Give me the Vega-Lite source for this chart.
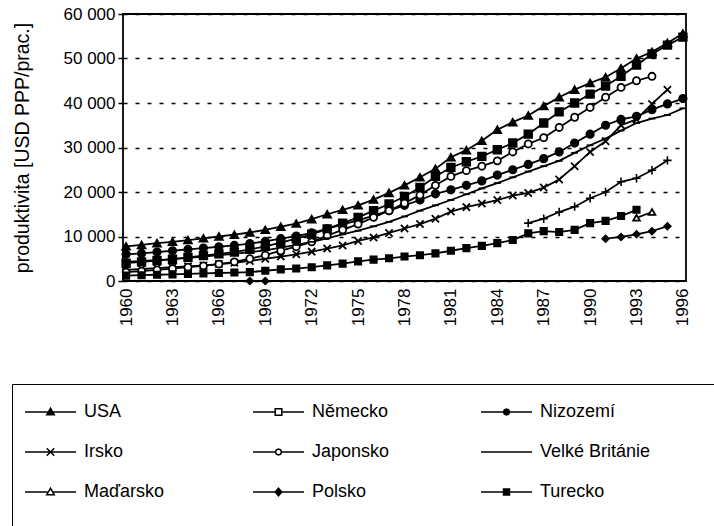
{
  "$schema": "https://vega.github.io/schema/vega-lite/v6.json",
  "width": 563,
  "height": 267,
  "autosize": {"type": "none"},
  "padding": {"left": 123, "top": 14, "right": 28, "bottom": 245},
  "background": "white",
  "config": {
    "view": {"stroke": "black", "strokeWidth": 1.8},
    "font": "Liberation Sans",
    "axis": {"labelFont": "Liberation Sans", "titleFont": "Liberation Sans", "labelColor": "black", "titleColor": "black", "labelFontSize": 17, "titleFontSize": 19.5, "titleFontWeight": "normal"}
  },
  "datasets": {
    "main": [
      {"s":"USA","y":1960,"v":7800},{"s":"USA","y":1961,"v":8100},{"s":"USA","y":1962,"v":8500},{"s":"USA","y":1963,"v":8800},{"s":"USA","y":1964,"v":9200},{"s":"USA","y":1965,"v":9600},{"s":"USA","y":1966,"v":10000},{"s":"USA","y":1967,"v":10400},{"s":"USA","y":1968,"v":10900},{"s":"USA","y":1969,"v":11500},{"s":"USA","y":1970,"v":12200},{"s":"USA","y":1971,"v":12900},{"s":"USA","y":1972,"v":13900},{"s":"USA","y":1973,"v":15000},{"s":"USA","y":1974,"v":16000},{"s":"USA","y":1975,"v":17000},{"s":"USA","y":1976,"v":18300},{"s":"USA","y":1977,"v":19800},{"s":"USA","y":1978,"v":21500},{"s":"USA","y":1979,"v":23300},{"s":"USA","y":1980,"v":25200},{"s":"USA","y":1981,"v":27800},{"s":"USA","y":1982,"v":29400},{"s":"USA","y":1983,"v":31500},{"s":"USA","y":1984,"v":34000},{"s":"USA","y":1985,"v":35700},{"s":"USA","y":1986,"v":37200},{"s":"USA","y":1987,"v":39300},{"s":"USA","y":1988,"v":41300},{"s":"USA","y":1989,"v":43000},{"s":"USA","y":1990,"v":44500},{"s":"USA","y":1991,"v":45800},{"s":"USA","y":1992,"v":47800},{"s":"USA","y":1993,"v":50000},{"s":"USA","y":1994,"v":51500},{"s":"USA","y":1995,"v":53500},{"s":"USA","y":1996,"v":55600},
      {"s":"Německo","y":1960,"v":4000},{"s":"Německo","y":1961,"v":4300},{"s":"Německo","y":1962,"v":4600},{"s":"Německo","y":1963,"v":4900},{"s":"Německo","y":1964,"v":5300},{"s":"Německo","y":1965,"v":5700},{"s":"Německo","y":1966,"v":6100},{"s":"Německo","y":1967,"v":6500},{"s":"Německo","y":1968,"v":7100},{"s":"Německo","y":1969,"v":7800},{"s":"Německo","y":1970,"v":8600},{"s":"Německo","y":1971,"v":9500},{"s":"Německo","y":1972,"v":10500},{"s":"Německo","y":1973,"v":11700},{"s":"Německo","y":1974,"v":13000},{"s":"Německo","y":1975,"v":14300},{"s":"Německo","y":1976,"v":15800},{"s":"Německo","y":1977,"v":17300},{"s":"Německo","y":1978,"v":19000},{"s":"Německo","y":1979,"v":21000},{"s":"Německo","y":1980,"v":23500},{"s":"Německo","y":1981,"v":25500},{"s":"Německo","y":1982,"v":26800},{"s":"Německo","y":1983,"v":28000},{"s":"Německo","y":1984,"v":29500},{"s":"Německo","y":1985,"v":31000},{"s":"Německo","y":1986,"v":33000},{"s":"Německo","y":1987,"v":35500},{"s":"Německo","y":1988,"v":38000},{"s":"Německo","y":1989,"v":40000},{"s":"Německo","y":1990,"v":42000},{"s":"Německo","y":1991,"v":43800},{"s":"Německo","y":1992,"v":46000},{"s":"Německo","y":1993,"v":48500},{"s":"Německo","y":1994,"v":51000},{"s":"Německo","y":1995,"v":53000},{"s":"Německo","y":1996,"v":54800},
      {"s":"Nizozemí","y":1960,"v":6000},{"s":"Nizozemí","y":1961,"v":6200},{"s":"Nizozemí","y":1962,"v":6500},{"s":"Nizozemí","y":1963,"v":6800},{"s":"Nizozemí","y":1964,"v":7100},{"s":"Nizozemí","y":1965,"v":7400},{"s":"Nizozemí","y":1966,"v":7700},{"s":"Nizozemí","y":1967,"v":8000},{"s":"Nizozemí","y":1968,"v":8400},{"s":"Nizozemí","y":1969,"v":8900},{"s":"Nizozemí","y":1970,"v":9500},{"s":"Nizozemí","y":1971,"v":10100},{"s":"Nizozemí","y":1972,"v":10800},{"s":"Nizozemí","y":1973,"v":11700},{"s":"Nizozemí","y":1974,"v":12700},{"s":"Nizozemí","y":1975,"v":13600},{"s":"Nizozemí","y":1976,"v":14700},{"s":"Nizozemí","y":1977,"v":15800},{"s":"Nizozemí","y":1978,"v":17000},{"s":"Nizozemí","y":1979,"v":18200},{"s":"Nizozemí","y":1980,"v":19600},{"s":"Nizozemí","y":1981,"v":20500},{"s":"Nizozemí","y":1982,"v":21500},{"s":"Nizozemí","y":1983,"v":22500},{"s":"Nizozemí","y":1984,"v":23800},{"s":"Nizozemí","y":1985,"v":25000},{"s":"Nizozemí","y":1986,"v":26200},{"s":"Nizozemí","y":1987,"v":27500},{"s":"Nizozemí","y":1988,"v":29000},{"s":"Nizozemí","y":1989,"v":31000},{"s":"Nizozemí","y":1990,"v":33000},{"s":"Nizozemí","y":1991,"v":35000},{"s":"Nizozemí","y":1992,"v":36300},{"s":"Nizozemí","y":1993,"v":37000},{"s":"Nizozemí","y":1994,"v":38500},{"s":"Nizozemí","y":1995,"v":39800},{"s":"Nizozemí","y":1996,"v":41000},
      {"s":"Irsko","y":1960,"v":2500},{"s":"Irsko","y":1961,"v":2700},{"s":"Irsko","y":1962,"v":2900},{"s":"Irsko","y":1963,"v":3100},{"s":"Irsko","y":1964,"v":3300},{"s":"Irsko","y":1965,"v":3500},{"s":"Irsko","y":1966,"v":3800},{"s":"Irsko","y":1967,"v":4100},{"s":"Irsko","y":1968,"v":4500},{"s":"Irsko","y":1969,"v":5000},{"s":"Irsko","y":1970,"v":5500},{"s":"Irsko","y":1971,"v":6000},{"s":"Irsko","y":1972,"v":6600},{"s":"Irsko","y":1973,"v":7300},{"s":"Irsko","y":1974,"v":8000},{"s":"Irsko","y":1975,"v":9000},{"s":"Irsko","y":1976,"v":9800},{"s":"Irsko","y":1977,"v":10800},{"s":"Irsko","y":1978,"v":11800},{"s":"Irsko","y":1979,"v":12800},{"s":"Irsko","y":1980,"v":14000},{"s":"Irsko","y":1981,"v":15600},{"s":"Irsko","y":1982,"v":16600},{"s":"Irsko","y":1983,"v":17400},{"s":"Irsko","y":1984,"v":18200},{"s":"Irsko","y":1985,"v":19200},{"s":"Irsko","y":1986,"v":19800},{"s":"Irsko","y":1987,"v":21000},{"s":"Irsko","y":1988,"v":22800},{"s":"Irsko","y":1989,"v":25800},{"s":"Irsko","y":1990,"v":29000},{"s":"Irsko","y":1991,"v":31400},{"s":"Irsko","y":1992,"v":35000},{"s":"Irsko","y":1993,"v":36300},{"s":"Irsko","y":1994,"v":39800},{"s":"Irsko","y":1995,"v":43000},
      {"s":"Japonsko","y":1960,"v":2000},{"s":"Japonsko","y":1961,"v":2200},{"s":"Japonsko","y":1962,"v":2500},{"s":"Japonsko","y":1963,"v":2800},{"s":"Japonsko","y":1964,"v":3100},{"s":"Japonsko","y":1965,"v":3400},{"s":"Japonsko","y":1966,"v":3800},{"s":"Japonsko","y":1967,"v":4300},{"s":"Japonsko","y":1968,"v":5000},{"s":"Japonsko","y":1969,"v":5800},{"s":"Japonsko","y":1970,"v":6800},{"s":"Japonsko","y":1971,"v":7700},{"s":"Japonsko","y":1972,"v":8800},{"s":"Japonsko","y":1973,"v":10200},{"s":"Japonsko","y":1974,"v":11500},{"s":"Japonsko","y":1975,"v":12800},{"s":"Japonsko","y":1976,"v":14300},{"s":"Japonsko","y":1977,"v":15800},{"s":"Japonsko","y":1978,"v":17500},{"s":"Japonsko","y":1979,"v":19300},{"s":"Japonsko","y":1980,"v":21500},{"s":"Japonsko","y":1981,"v":23500},{"s":"Japonsko","y":1982,"v":24800},{"s":"Japonsko","y":1983,"v":25800},{"s":"Japonsko","y":1984,"v":27000},{"s":"Japonsko","y":1985,"v":29000},{"s":"Japonsko","y":1986,"v":30800},{"s":"Japonsko","y":1987,"v":32200},{"s":"Japonsko","y":1988,"v":34500},{"s":"Japonsko","y":1989,"v":36800},{"s":"Japonsko","y":1990,"v":39000},{"s":"Japonsko","y":1991,"v":41300},{"s":"Japonsko","y":1992,"v":43500},{"s":"Japonsko","y":1993,"v":45000},{"s":"Japonsko","y":1994,"v":46000},
      {"s":"Velké Británie","y":1960,"v":4300},{"s":"Velké Británie","y":1961,"v":4500},{"s":"Velké Británie","y":1962,"v":4700},{"s":"Velké Británie","y":1963,"v":4900},{"s":"Velké Británie","y":1964,"v":5200},{"s":"Velké Británie","y":1965,"v":5500},{"s":"Velké Británie","y":1966,"v":5800},{"s":"Velké Británie","y":1967,"v":6100},{"s":"Velké Británie","y":1968,"v":6500},{"s":"Velké Británie","y":1969,"v":6900},{"s":"Velké Británie","y":1970,"v":7500},{"s":"Velké Británie","y":1971,"v":8100},{"s":"Velké Británie","y":1972,"v":8800},{"s":"Velké Británie","y":1973,"v":9600},{"s":"Velké Británie","y":1974,"v":10500},{"s":"Velké Británie","y":1975,"v":11300},{"s":"Velké Británie","y":1976,"v":12300},{"s":"Velké Británie","y":1977,"v":13300},{"s":"Velké Británie","y":1978,"v":14500},{"s":"Velké Británie","y":1979,"v":15800},{"s":"Velké Británie","y":1980,"v":17000},{"s":"Velké Británie","y":1981,"v":18200},{"s":"Velké Británie","y":1982,"v":19500},{"s":"Velké Británie","y":1983,"v":20800},{"s":"Velké Británie","y":1984,"v":22000},{"s":"Velké Británie","y":1985,"v":23300},{"s":"Velké Británie","y":1986,"v":24600},{"s":"Velké Británie","y":1987,"v":25800},{"s":"Velké Británie","y":1988,"v":27000},{"s":"Velké Británie","y":1989,"v":28800},{"s":"Velké Británie","y":1990,"v":30500},{"s":"Velké Británie","y":1991,"v":32000},{"s":"Velké Británie","y":1992,"v":33800},{"s":"Velké Británie","y":1993,"v":35500},{"s":"Velké Británie","y":1994,"v":36500},{"s":"Velké Británie","y":1995,"v":37300},{"s":"Velké Británie","y":1996,"v":38800},
      {"s":"Maďarsko","y":1993,"v":14200},{"s":"Maďarsko","y":1994,"v":15500},
      {"s":"Polsko","y":1968,"v":0,"p":"z"},{"s":"Polsko","y":1969,"v":0,"p":"z"},{"s":"Polsko","y":1991,"v":9500},{"s":"Polsko","y":1992,"v":9900},{"s":"Polsko","y":1993,"v":10500},{"s":"Polsko","y":1994,"v":11200},{"s":"Polsko","y":1995,"v":12300},
      {"s":"Turecko","y":1960,"v":1200},{"s":"Turecko","y":1961,"v":1300},{"s":"Turecko","y":1962,"v":1400},{"s":"Turecko","y":1963,"v":1500},{"s":"Turecko","y":1964,"v":1600},{"s":"Turecko","y":1965,"v":1700},{"s":"Turecko","y":1966,"v":1800},{"s":"Turecko","y":1967,"v":1900},{"s":"Turecko","y":1968,"v":2000},{"s":"Turecko","y":1969,"v":2300},{"s":"Turecko","y":1970,"v":2600},{"s":"Turecko","y":1971,"v":2800},{"s":"Turecko","y":1972,"v":3100},{"s":"Turecko","y":1973,"v":3500},{"s":"Turecko","y":1974,"v":3900},{"s":"Turecko","y":1975,"v":4400},{"s":"Turecko","y":1976,"v":4800},{"s":"Turecko","y":1977,"v":5100},{"s":"Turecko","y":1978,"v":5500},{"s":"Turecko","y":1979,"v":5800},{"s":"Turecko","y":1980,"v":6200},{"s":"Turecko","y":1981,"v":6800},{"s":"Turecko","y":1982,"v":7400},{"s":"Turecko","y":1983,"v":7900},{"s":"Turecko","y":1984,"v":8500},{"s":"Turecko","y":1985,"v":9200},{"s":"Turecko","y":1986,"v":10700},{"s":"Turecko","y":1987,"v":11200},{"s":"Turecko","y":1988,"v":11000},{"s":"Turecko","y":1989,"v":11500},{"s":"Turecko","y":1990,"v":13000},{"s":"Turecko","y":1991,"v":13500},{"s":"Turecko","y":1992,"v":14600},{"s":"Turecko","y":1993,"v":16000}
    ],
    "extra": [
      {"y":1986,"v":13000},{"y":1987,"v":14000},{"y":1988,"v":15500},{"y":1989,"v":16700},{"y":1990,"v":18600},{"y":1991,"v":20000},{"y":1992,"v":22300},{"y":1993,"v":23100},{"y":1994,"v":24900},{"y":1995,"v":27100}
    ]
  },
  "encoding": {
    "x": {"field": "y", "type": "quantitative", "scale": {"domain": [1959.8, 1996.2], "nice": false, "zero": false},
      "axis": {"values": [1960,1963,1966,1969,1972,1975,1978,1981,1984,1987,1990,1993,1996], "format": "d", "labelAngle": -90, "title": null, "grid": false, "ticks": false, "domain": false, "labelPadding": 7}},
    "y": {"field": "v", "type": "quantitative", "scale": {"domain": [0, 60000], "nice": false},
      "axis": {"values": [0,10000,20000,30000,40000,50000,60000], "labelExpr": "replace(format(datum.value, ','), ',', ' ')", "grid": true, "gridColor": "black", "gridDash": [4, 8], "gridWidth": 1.6, "tickColor": "black", "tickSize": 5, "tickWidth": 1.5, "domain": false, "labelPadding": 3, "title": "produktivita [USD PPP/prac.]", "titlePadding": 31}}
  },
  "layer": [
    {"data": {"name": "main"}, "mark": {"type": "line", "color": "black", "strokeWidth": 1.8},
     "encoding": {"detail": [{"field": "s"}, {"field": "p"}]}},
    {"data": {"name": "extra"}, "mark": {"type": "line", "color": "black", "strokeWidth": 1.8}, "encoding": {}},
    {"data": {"name": "main"}, "mark": {"type": "point", "filled": true, "stroke": "black", "strokeWidth": 1.8, "opacity": 1},
     "encoding": {
       "shape": {"field": "s", "type": "nominal", "legend": null, "scale": {"domain": ["USA","Německo","Nizozemí","Irsko","Japonsko","Velké Británie","Maďarsko","Polsko","Turecko"], "range": ["triangle-up","square","circle","M-1,-1L1,1M-1,1L1,-1","circle","M-1,0H1","triangle-up","diamond","square"]}},
       "fill": {"field": "s", "type": "nominal", "legend": null, "scale": {"domain": ["USA","Německo","Nizozemí","Irsko","Japonsko","Velké Británie","Maďarsko","Polsko","Turecko"], "range": ["black","black","black","black","white","black","white","black","black"]}},
       "size": {"field": "s", "type": "nominal", "legend": null, "scale": {"domain": ["USA","Německo","Nizozemí","Irsko","Japonsko","Velké Británie","Maďarsko","Polsko","Turecko"], "range": [60,40,42,80,36,40,60,55,50]}}
     }},
    {"data": {"name": "extra"}, "mark": {"type": "point", "shape": "M-1,0H1M0,-1V1", "size": 70, "stroke": "black", "strokeWidth": 1.6, "filled": false, "opacity": 1}, "encoding": {}},
    {"data": {"name": "main"}, "transform": [{"filter": "false"}],
     "mark": {"type": "point", "filled": true, "stroke": "black", "strokeWidth": 1.5, "opacity": 1},
     "encoding": {
       "shape": {"field": "s", "type": "nominal",
         "scale": {"domain": ["USA","Německo","Nizozemí","Irsko","Japonsko","Velké Británie","Maďarsko","Polsko","Turecko"],
           "range": [
             "M-1,0H2.4M0.7,-0.25L0.95,0.18H0.45Z",
             "M-1,0H0.48M0.92,0H2.4M0.48,-0.22H0.92V0.22H0.48Z",
             "M-1,0H2.4M0.9,0L0.841,0.141L0.7,0.2L0.559,0.141L0.5,0L0.559,-0.141L0.7,-0.2L0.841,-0.141Z",
             "M-1,0H2.4M0.45,-0.25L0.95,0.25M0.45,0.25L0.95,-0.25",
             "M-1,0H0.5M0.9,0H2.4M0.9,0L0.841,0.141L0.7,0.2L0.559,0.141L0.5,0L0.559,-0.141L0.7,-0.2L0.841,-0.141Z",
             "M-1,0H2.4",
             "M-1,0H0.5M0.9,0H2.4M0.7,-0.25L0.95,0.18H0.45Z",
             "M-1,0H2.4M0.7,-0.25L0.92,0L0.7,0.25L0.48,0Z",
             "M-1,0H2.4M0.5,-0.2H0.9V0.2H0.5Z"
           ]},
         "legend": {"orient": "none", "legendX": -111, "legendY": 370, "title": ["\u00a0","\u00a0","\u00a0","\u00a0","\u00a0","\u00a0","\u00a0","\u00a0"], "titleOrient": "right", "titlePadding": 80, "titleFontSize": 18, "titleLineHeight": 22, "direction": "horizontal", "columns": 3, "gridAlign": "all", "columnPadding": 55, "rowPadding": 15, "symbolSize": 900, "labelOffset": 28, "labelFont": "Liberation Sans", "labelFontSize": 18, "labelColor": "black", "strokeColor": "black", "padding": 12,
           "encode": {"symbols": {"update": {"stroke": {"value": "black"}, "strokeWidth": {"value": 1.5}}}}}},
       "fill": {"field": "s", "type": "nominal",
         "scale": {"domain": ["USA","Německo","Nizozemí","Irsko","Japonsko","Velké Británie","Maďarsko","Polsko","Turecko"], "range": ["black","white","black","black","white","black","white","black","black"]},
         "legend": {"orient": "none", "legendX": -111, "legendY": 370, "title": ["\u00a0","\u00a0","\u00a0","\u00a0","\u00a0","\u00a0","\u00a0","\u00a0"], "titleOrient": "right", "titlePadding": 80, "titleFontSize": 18, "titleLineHeight": 22, "direction": "horizontal", "columns": 3, "gridAlign": "all", "columnPadding": 55, "rowPadding": 15, "symbolSize": 900, "labelOffset": 28, "labelFont": "Liberation Sans", "labelFontSize": 18, "labelColor": "black", "strokeColor": "black", "padding": 12,
           "encode": {"symbols": {"update": {"stroke": {"value": "black"}, "strokeWidth": {"value": 1.5}}}}}}
     }}
  ],
  "resolve": {"scale": {"shape": "independent", "fill": "independent", "size": "independent"}, "legend": {"shape": "independent", "fill": "independent"}}
}
